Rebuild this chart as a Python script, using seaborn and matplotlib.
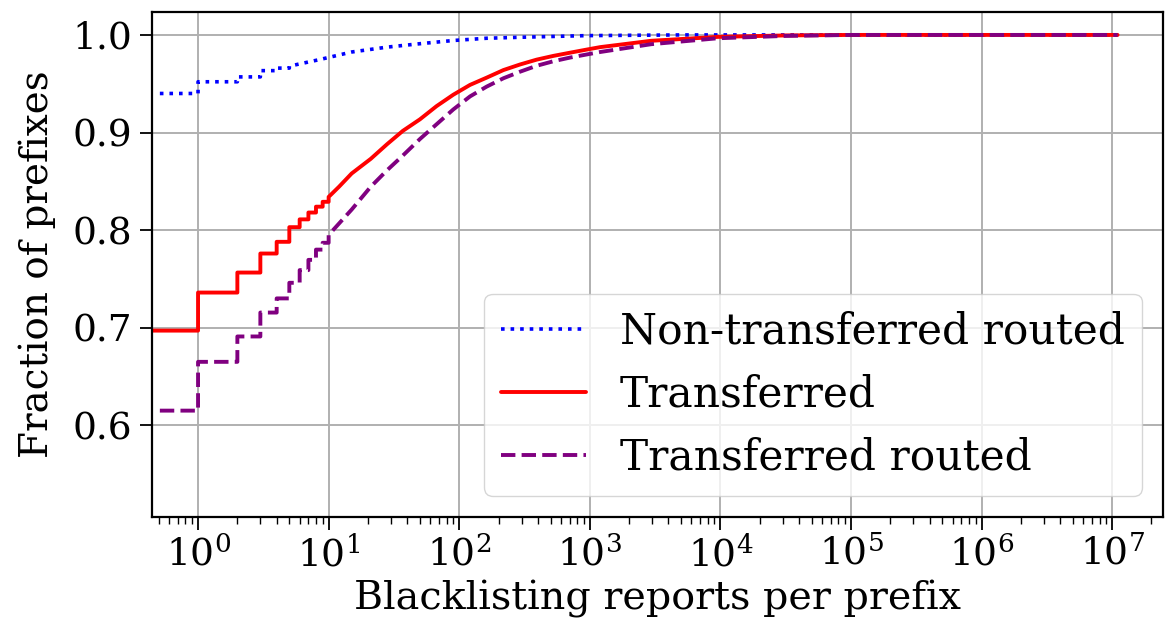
import numpy as np
import pandas as pd
import matplotlib
matplotlib.use("Agg")
import matplotlib.pyplot as plt
import seaborn as sns

# ---- Data ----
# Step (integer-count) region of each CDF
blue_step_x = [0.51, 1, 2, 3, 4, 5]
blue_step_y = [0.940, 0.952, 0.957, 0.9634, 0.966, 0.968]
blue_curve_x = [5, 8.5, 15, 28, 50, 90, 162, 292, 948, 5000, 1.1e7]
blue_curve_y = [0.968, 0.9747, 0.9825, 0.9875, 0.991, 0.9943, 0.9966, 0.9976, 0.9993, 1.0, 1.0]

red_step_x = [0.4, 1, 2, 3, 4, 5, 6, 7, 8, 9, 10]
red_step_y = [0.697, 0.736, 0.7565, 0.776, 0.788, 0.803, 0.811, 0.818, 0.824, 0.829, 0.834]
red_curve_x = [10, 12, 15, 21, 28, 37, 50, 67, 90, 121, 162, 218, 292, 392, 525, 706, 948, 1200,
               2950, 9550, 31600, 1e5, 1.1e7]
red_curve_y = [0.834, 0.8444, 0.858, 0.873, 0.888, 0.9017, 0.9135, 0.927, 0.9387, 0.9488, 0.9562,
               0.964, 0.9697, 0.9747, 0.9785, 0.9818, 0.985, 0.9875, 0.994, 0.998, 0.9995, 1.0, 1.0]

purple_step_x = [0.51, 1, 2, 3, 4, 5, 6, 7, 8, 9, 10]
purple_step_y = [0.615, 0.665, 0.691, 0.7155, 0.730, 0.746, 0.759, 0.7695, 0.780, 0.787, 0.795]
purple_curve_x = [10, 15, 21, 28, 37, 50, 67, 90, 121, 162, 218, 292, 392, 525, 706, 948, 1200,
                  2950, 9550, 31600, 1e5, 1.1e7]
purple_curve_y = [0.795, 0.821, 0.8444, 0.8613, 0.8764, 0.8933, 0.9084, 0.9236, 0.937, 0.947,
                  0.9556, 0.9623, 0.9684, 0.973, 0.9768, 0.98, 0.9825, 0.9905, 0.9966, 0.999, 1.0, 1.0]

labels = ["Non-transferred routed", "Transferred", "Transferred routed"]
x_ticks = [1, 10, 100, 1000, 10000, 100000, 1000000, 10000000]
y_ticks = [0.6, 0.7, 0.8, 0.9, 1.0]


def cdf_path(sx, sy, cx, cy):
    """Build a step path for the integer region followed by the smooth part."""
    xs, ys = [sx[0]], [sy[0]]
    for i in range(1, len(sx)):
        xs += [sx[i], sx[i]]
        ys += [sy[i - 1], sy[i]]
    xs += list(cx[1:])
    ys += list(cy[1:])
    return pd.DataFrame({"x": xs, "y": ys})


sns.set_style("ticks")
plt.rcParams['font.family'] = ['DejaVu Serif']
plt.rcParams['mathtext.fontset'] = 'dejavuserif'
for k in ['text.color', 'axes.labelcolor', 'xtick.color', 'ytick.color', 'axes.edgecolor']:
    plt.rcParams[k] = 'black'

fig = plt.figure(figsize=(11.69, 6.35), dpi=100)
ax = fig.add_axes([152/1169, 1-517/635, (1163-152)/1169, (517-12)/635])

specs = [
    (cdf_path(blue_step_x, blue_step_y, blue_curve_x, blue_curve_y), 'blue', ':', 2.6, labels[0]),
    (cdf_path(red_step_x, red_step_y, red_curve_x, red_curve_y), 'red', '-', 2.8, labels[1]),
    (cdf_path(purple_step_x, purple_step_y, purple_curve_x, purple_curve_y), 'purple', '--', 2.8, labels[2]),
]
for df, col, ls, lw, lab in specs:
    sns.lineplot(data=df, x="x", y="y", ax=ax, color=col, linestyle=ls, linewidth=lw,
                 estimator=None, sort=False, label=lab)

ax.set_xscale('log')
ax.set_xlim(0.444, 2.45e7)
ax.set_ylim(0.506, 1.0235)
ax.set_yticks(y_ticks)
ax.set_xticks(x_ticks)
ax.grid(True, which='major', color='#b0b0b0', linewidth=1.4)
ax.tick_params(axis='both', which='major', labelsize=27, length=9, width=1.3, pad=5)
ax.tick_params(axis='x', which='minor', length=5, width=1.0)
for s in ax.spines.values():
    s.set_linewidth(1.6)

ax.set_xlabel("Blacklisting reports per prefix", fontsize=28.5, labelpad=4)
ax.set_ylabel("Fraction of prefixes", fontsize=28, labelpad=12)

leg = ax.legend(loc='lower right', fontsize=30.5, frameon=True, handlelength=2.0,
                framealpha=0.8, fancybox=True)
leg.get_frame().set_edgecolor('#cccccc')

fig.savefig("out.png", dpi=100)
